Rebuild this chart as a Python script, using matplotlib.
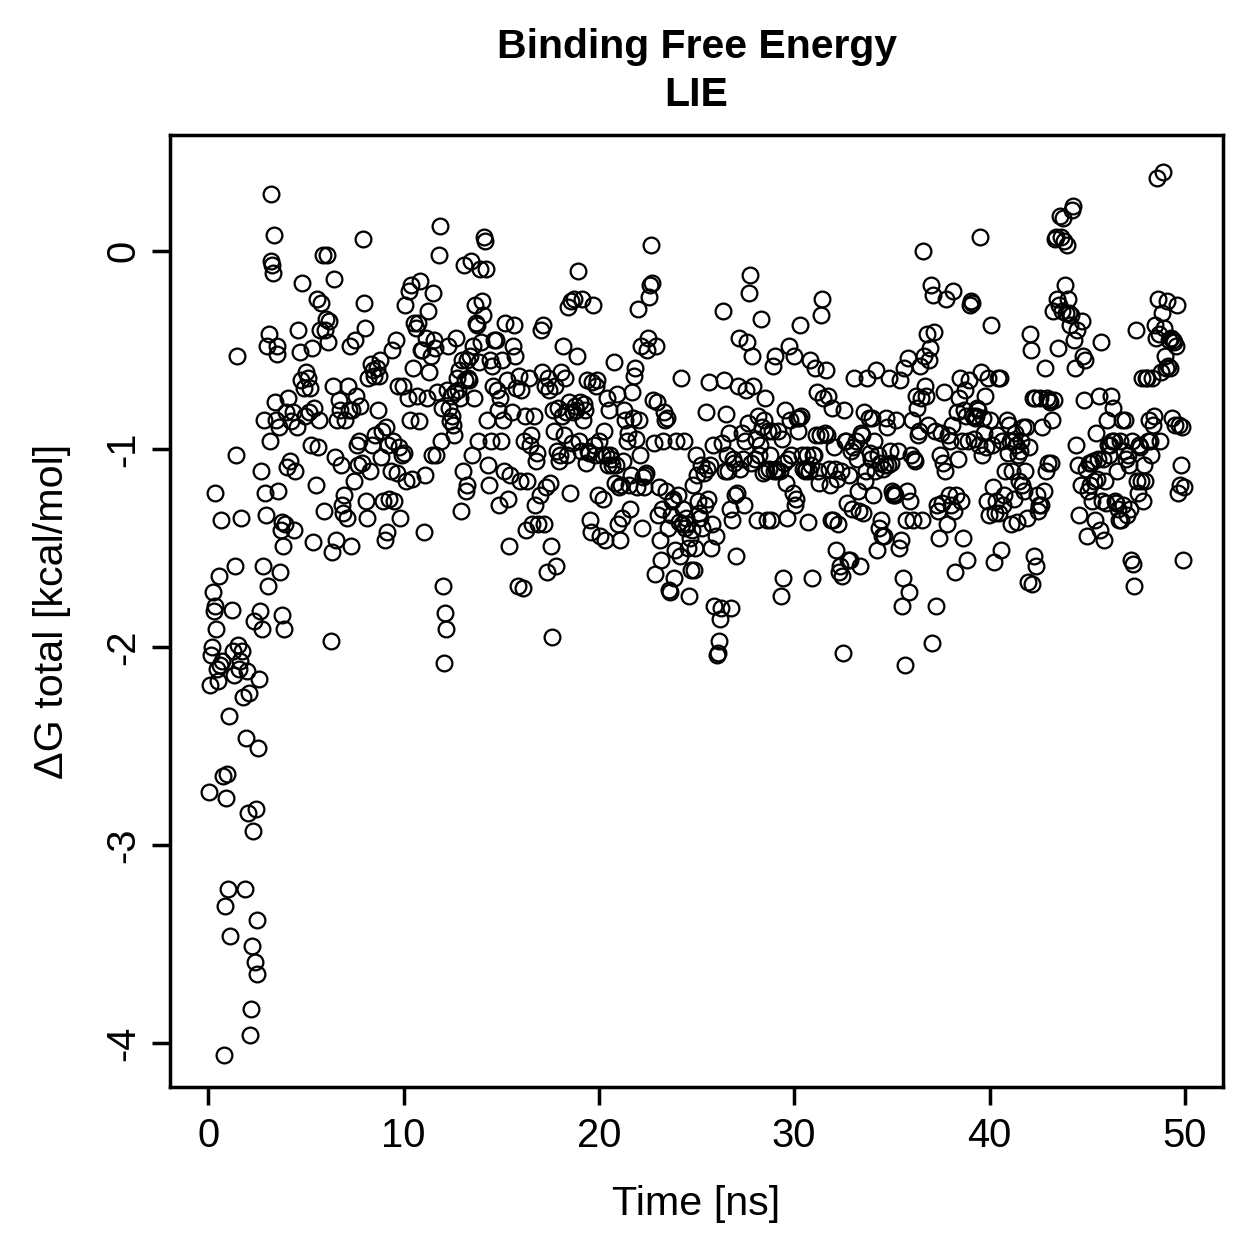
import numpy as np
import matplotlib
matplotlib.use("Agg")
import matplotlib.pyplot as plt

plt.rcParams['font.family'] = ['Liberation Sans', 'DejaVu Sans']

# Delta G total [kcal/mol] in time order
dg_total = [
    # 0-1 ns
    -2.73,-2.19,-2.04,-2.00,-1.72,-1.82,-1.22,-1.79,-1.91,-2.11,-2.17,-1.64,-2.09,-1.36,-2.07,-2.65,-4.06,-3.31,-2.76,-2.64,
    # 1-2
    -3.22,-2.35,-3.46,-1.81,-2.02,-2.14,-1.59,-1.03,-0.53,-1.99,-2.11,-2.07,-1.35,-2.02,-2.25,-3.22,-2.46,-2.12,
    # 2-3
    -2.84,-2.23,-3.96,-3.83,-3.51,-2.93,-1.87,-3.59,-2.82,-3.65,-3.38,-2.51,-2.16,-1.82,-1.11,-1.91,-1.59,-0.85,-1.22,-1.33,
    # 3-4
    -0.48,-1.69,-0.42,-0.96,-0.05,0.29,-0.07,-0.11,0.08,-0.76,-0.85,-0.52,-0.48,-1.21,-0.89,-1.62,-1.41,-1.84,-1.37,-1.49,-1.91,-1.38,-0.81,
    # 4-5
    -1.09,-0.74,-1.06,-0.86,-0.81,-1.41,-1.11,-0.89,-0.40,-0.51,-0.65,-0.16,-0.69,-0.83,
    # 5-6
    -0.61,-0.64,-0.81,-0.69,-0.98,-0.49,-1.47,-0.79,-1.18,-0.24,-0.99,-0.85,-0.40,-0.26,-0.02,-1.31,-0.40,
    # 6-7
    -0.34,-0.02,-0.46,-0.35,-1.97,-1.52,-0.68,-0.14,-1.04,-1.46,-0.85,-0.75,-0.80,-1.08,-1.28,-1.32,-1.23,
    # 7-8
    -0.85,-1.35,-0.68,-0.80,-0.48,-1.49,-0.80,-1.16,-0.45,-0.73,-0.98,-1.08,-0.96,-0.78,-1.07,0.06,-0.26,
    # 8-9
    -0.39,-1.26,-1.35,-0.64,-1.11,-0.57,-0.98,-0.60,-0.63,-0.93,-0.59,-0.80,-0.63,-0.55,-1.04,-0.91,-1.26,
    # 9-10
    -1.46,-0.89,-1.42,-0.98,-1.25,-1.11,-0.50,-0.96,-1.26,-0.45,-1.12,-0.68,-0.99,-1.35,-1.03,-0.68,
    # 10-11
    -1.02,-0.27,-1.16,-0.74,-0.20,-0.85,-0.17,-1.15,-0.59,-0.36,-0.39,-0.73,-0.36,-0.86,-0.15,-0.50,-0.50,
    # 11-12
    -1.42,-1.13,-0.44,-0.74,-0.30,-0.61,-0.53,-1.03,-0.21,-0.45,-0.49,-1.03,-0.71,-0.02,0.13,-0.96,-0.79,
    # 12-13
    -1.69,-2.08,-1.83,-1.91,-0.70,-0.48,-0.79,-0.86,-0.73,-0.83,-0.88,-0.93,-0.71,-0.44,-0.64,-0.70,-0.60,-0.74,-1.31,-0.55,
    # 13-14
    -1.11,-0.07,-0.65,-1.21,-0.55,-1.18,-0.64,-0.65,-0.53,-0.05,-1.03,-0.48,-0.74,-0.27,-0.36,-0.37,-0.96,-0.56,-0.09,-0.46,
    # 14-15
    -0.25,-0.32,0.07,0.05,-0.09,-0.85,-1.08,-1.18,-0.55,-0.96,-0.58,-0.68,-0.45,-0.45,-0.70,-0.80,-1.28,-0.74,-0.96,
    # 15-16
    -0.55,-0.85,-1.11,-0.36,-0.65,-1.25,-1.49,-1.13,-0.81,-0.48,-0.37,-0.53,-0.69,-1.69,-0.63,-1.16,
    # 16-17
    -0.70,-1.70,-0.96,-0.83,-1.41,-1.16,-0.64,-0.98,-0.93,-1.38,-0.83,-1.28,-1.06,-1.02,-1.38,-1.23,
    # 17-18
    -0.40,-0.61,-0.37,-1.38,-0.68,-1.19,-1.62,-0.64,-0.70,-1.17,-1.49,-1.95,-0.80,-0.91,-0.68,-1.59,-1.01,-0.79,-1.06,
    # 18-19
    -1.03,-0.61,-0.83,-0.48,-0.93,-0.64,-0.81,-1.03,-0.28,-0.76,-1.22,-0.25,-0.97,-0.81,-0.24,-0.78,-0.80,-0.53,-0.10,-0.96,
    # 19-20
    -0.76,-1.01,-0.24,-0.85,-0.77,-0.80,-1.07,-0.65,-1.01,-1.02,-1.36,-1.42,-0.66,-0.27,-0.98,-1.03,-0.68,-0.65,-1.23,
    # 20-21
    -0.96,-1.44,-1.03,-1.25,-0.91,-1.46,-1.03,-0.74,-1.08,-0.80,-1.03,-1.05,-1.08,-0.56,-1.17,-1.08,-0.72,-1.38,
    # 21-22
    -1.19,-1.46,-1.18,-1.35,-1.06,-0.80,-0.85,-0.96,-0.92,-1.18,-1.30,-1.13,-0.71,-0.84,-0.63,-0.59,-0.95,-1.19,
    # 22-23
    -0.29,-0.85,-1.03,-0.48,-1.40,-1.14,-1.19,-1.13,-1.12,-0.50,-0.44,-0.23,-0.17,0.03,-0.16,-0.75,-0.97,-1.63,-0.48,-0.76,
    # 23-24
    -1.33,-1.19,-1.46,-1.56,-1.30,-0.96,-0.81,-0.85,-1.21,-0.84,-1.40,-1.71,-1.72,-1.33,-1.26,-1.25,-1.65,-1.51,-0.96,
    # 24-25
    -1.23,-1.37,-1.54,-0.64,-1.38,-1.30,-0.96,-1.40,-1.35,-1.38,-1.50,-1.74,-1.45,-1.61,-1.41,-1.18,-1.61,-1.50,-1.03,
    # 25-26
    -1.13,-1.26,-1.32,-1.35,-1.08,-1.40,-1.12,-1.28,-0.81,-1.10,-1.25,-0.66,-1.08,-1.50,-1.38,-0.98,-1.79,-1.44,
    # 26-27
    -2.04,-2.03,-1.97,-1.86,-1.80,-0.97,-0.30,-0.65,-1.11,-0.82,-1.03,-1.11,-0.92,-1.30,-1.80,-1.36,-1.05,-1.07,-1.23,
    # 27-28
    -1.54,-1.22,-0.68,-0.44,-1.10,-0.92,-1.05,-1.28,-0.96,-0.70,-0.46,-0.87,-0.21,-0.12,-1.07,-0.53,-0.68,-1.05,
    # 28-29
    -0.95,-1.36,-0.83,-1.03,-0.98,-0.34,-0.89,-1.12,-0.85,-0.74,-1.11,-1.36,-0.91,-1.10,-1.03,-1.36,-0.91,-0.58,-1.11,
    # 29-30
    -0.53,-1.10,-1.11,-0.91,-1.11,-1.74,-0.95,-1.65,-1.07,-0.80,-1.17,-1.35,-1.05,-0.48,-0.85,-1.03,-1.22,-0.53,
    # 30-31
    -1.28,-1.25,-0.84,-0.91,-0.84,-0.37,-0.83,-1.03,-1.10,-1.11,-1.10,-1.03,-1.37,-1.11,-0.55,-1.08,-1.65,-1.03,
    # 31-32
    -1.03,-0.59,-0.93,-0.71,-1.11,-1.17,-0.93,-0.32,-0.24,-0.74,-0.92,-0.60,-0.93,-0.73,-1.10,-1.18,-1.36,-0.79,-1.36,
    # 32-33
    -0.99,-1.10,-1.51,-1.15,-1.38,-1.62,-1.59,-1.11,-1.64,-2.03,-0.80,-0.96,-0.96,-1.27,-1.56,-1.13,-1.56,-1.01,-1.30,
    # 33-34
    -0.99,-0.64,-0.96,-1.05,-1.21,-1.31,-1.59,-0.92,-0.93,-1.32,-0.81,-1.16,-1.11,-0.64,-0.84,-1.02,-1.05,-0.84,
    # 34-35
    -1.23,-0.96,-1.11,-0.60,-1.51,-1.03,-1.40,-1.07,-1.36,-1.44,-1.10,-1.44,-1.08,-0.84,-0.89,-1.08,-0.64,-1.01,-1.07,
    # 35-36
    -1.21,-1.23,-1.22,-1.23,-0.85,-1.01,-1.50,-0.65,-1.46,-1.79,-1.65,-0.59,-2.09,-1.36,-1.21,-0.54,-1.72,-1.26,-1.03,
    # 36-37
    -0.85,-1.36,-1.05,-1.06,-0.73,-0.79,-0.93,-0.91,-0.58,-0.74,-1.36,0.00,-0.53,-0.68,-0.73,-0.42,-0.88,-0.55,-0.49,
    # 37-38
    -0.17,-1.98,-0.22,-0.41,-0.91,-1.79,-1.28,-1.31,-1.45,-1.03,-0.92,-1.27,-1.07,-0.71,-1.11,-0.24,-1.38,-0.93,-1.23,-0.96,
    # 38-39
    -1.28,-0.88,-0.20,-1.31,-1.62,-1.23,-0.81,-1.05,-0.74,-0.64,-1.26,-0.96,-1.45,-0.80,-0.70,-0.83,-1.56,-0.96,-0.65,
    # 39-40
    -0.27,-0.25,-0.26,-0.83,-0.95,-0.84,-0.83,-0.79,-0.80,-0.98,0.07,-0.61,-1.03,-0.84,-0.92,-0.73,-0.99,-1.26,-0.64,-1.33,
    # 40-41
    -0.85,-0.37,-0.98,-1.19,-1.57,-1.32,-1.26,-0.93,-0.64,-1.32,-0.64,-1.51,-0.96,-1.28,-1.23,-1.11,-0.85,-1.02,-0.88,
    # 41-42
    -0.96,-1.38,-1.11,-0.96,-1.25,-0.92,-0.98,-1.37,-1.03,-1.16,-1.01,-0.96,-1.18,-0.89,-1.21,-1.11,-0.89,-1.35,-1.67,
    # 42-43
    -0.99,-0.42,-0.50,-1.68,-0.74,-1.54,-0.74,-1.59,-1.23,-1.31,-1.28,-0.74,-1.28,-0.89,-1.21,-0.59,-1.11,-0.74,-1.07,
    # 43-44
    -0.75,-0.76,-1.07,-0.85,-0.30,-0.75,0.06,0.07,-0.24,-0.49,-0.27,0.18,0.07,-0.30,0.17,0.05,-0.17,-0.31,0.03,
    # 44-45
    -0.24,-0.31,-0.37,-0.32,0.21,0.23,-0.45,-0.59,-0.98,-0.40,-1.08,-1.33,-1.18,-0.35,-0.53,-0.75,-0.55,-1.10,-1.44,
    # 45-46
    -1.21,-1.07,-1.18,-1.07,-1.26,-1.06,-1.16,-1.36,-0.92,-1.15,-1.05,-0.73,-1.41,-0.46,-1.26,-1.05,-1.46,-1.16,-1.27,
    # 46-47
    -0.85,-0.98,-1.03,-0.98,-0.73,-0.96,-0.79,-0.96,-1.26,-1.27,-1.11,-1.30,-1.36,-0.96,-1.36,-0.85,-1.28,-1.01,-0.85,-1.05,
    # 47-48
    -1.33,-1.03,-1.08,-1.30,-1.56,-0.96,-1.58,-1.69,-0.40,-1.16,-1.22,-0.98,-0.99,-1.16,-0.64,-1.26,-1.08,-1.16,
    # 48-49
    -0.64,-0.64,-0.96,-0.85,-0.96,-1.03,-0.64,-0.88,-0.83,-0.37,-0.44,0.37,-0.24,-0.42,-0.96,-0.61,-0.31,0.40,-0.39,-0.53,
    # 49-50
    -0.59,-0.25,-0.58,-0.45,-0.59,-0.44,-0.84,-0.45,-0.46,-0.88,-0.48,-0.27,-1.22,-0.88,-1.18,-1.08,-0.89,-1.56,-1.19,
]

# number of frames read within each 1-ns window (0-1, 1-2, ..., 49-50)
frames_per_ns = [20,18,20,23,14,17,17,17,17,16,17,17,20,20,19,16,16,19,20,19,
                 18,18,20,19,19,18,19,18,19,18,18,19,19,18,19,19,19,20,19,20,
                 19,19,19,19,19,19,20,18,20,19]

x_ticks = [0, 10, 20, 30, 40, 50]
y_ticks = [0, -1, -2, -3, -4]

title_lines = ['Binding Free Energy', 'LIE']
x_label = 'Time [ns]'
y_label = 'ΔG total [kcal/mol]'

# sampling times: frames spread evenly inside each 1-ns window
time_ns = np.concatenate([k + (np.arange(n) + 0.5) / n for k, n in enumerate(frames_per_ns)])
dg = np.array(dg_total)
m = min(len(time_ns), len(dg))
time_ns, dg = time_ns[:m], dg[:m]

W = 1259.0
fig = plt.figure(figsize=(7, 7), dpi=180)
ax = fig.add_axes([170/W, 1 - 1086/W, (1222-170)/W, (1086-135)/W])

ax.plot(time_ns, dg, linestyle='none', marker='o', markersize=6.3,
        markerfacecolor='none', markeredgecolor='black', markeredgewidth=0.9)

ax.set_xlim(-1.947, 51.95)
ax.set_ylim(-4.222, 0.587)
ax.set_xticks(x_ticks)
ax.set_yticks(y_ticks)
ax.set_xticklabels([str(v) for v in x_ticks])
ax.set_yticklabels([str(v) for v in y_ticks], rotation=90, va='center')

for s in ax.spines.values():
    s.set_linewidth(1.4)
ax.tick_params(axis='both', direction='out', length=7.2, width=1.4, labelsize=16)
ax.tick_params(axis='x', pad=5)
ax.tick_params(axis='y', pad=4)

fig.text(696/W, 1 - 1203/W, x_label, ha='center', va='center', fontsize=16.5)
fig.text(52/W, 1 - 610.5/W, y_label, ha='center', va='center', rotation=90, fontsize=16.5)

fig.text(696/W, 1 - 47/W, title_lines[0], ha='center', va='center',
         fontsize=16.4, fontweight='bold')
fig.text(696/W, 1 - 95/W, title_lines[1], ha='center', va='center',
         fontsize=16.4, fontweight='bold')

fig.savefig('out.png', dpi=180)
